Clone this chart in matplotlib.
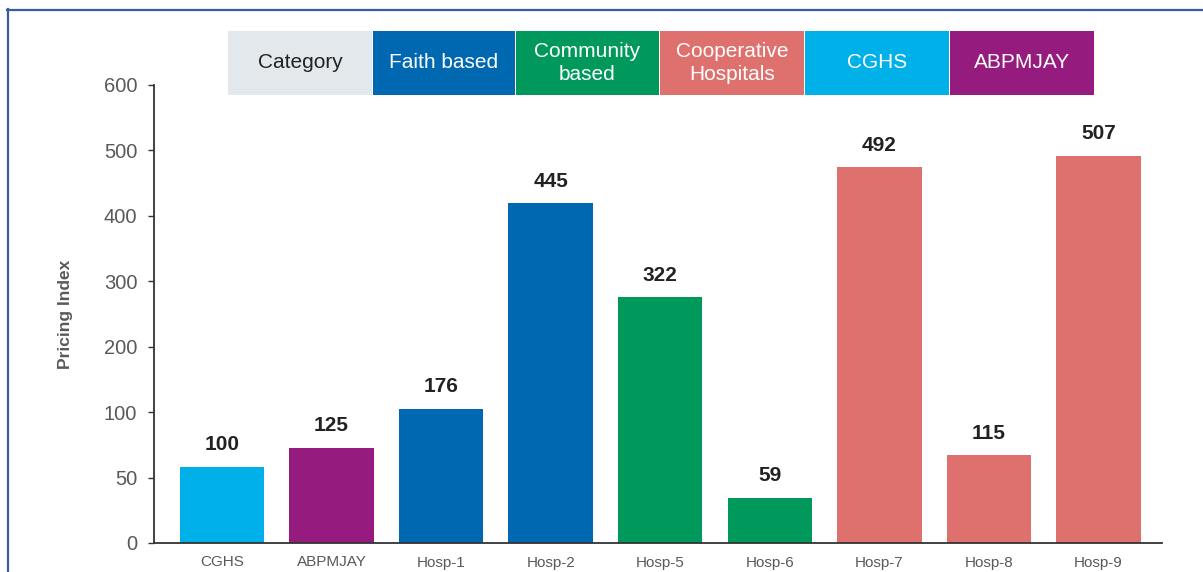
import matplotlib
matplotlib.use("Agg")
import matplotlib.pyplot as plt
from matplotlib.patches import Rectangle
from matplotlib.lines import Line2D

plt.rcParams['font.family'] = ['Liberation Sans', 'DejaVu Sans']

# ---------- data ----------
hospitals = ['CGHS', 'ABPMJAY', 'Hosp-1', 'Hosp-2', 'Hosp-5', 'Hosp-6', 'Hosp-7', 'Hosp-8', 'Hosp-9']
pricing_index = [100, 125, 176, 445, 322, 59, 492, 115, 507]
hosp_category = ['CGHS', 'ABPMJAY', 'Faith based', 'Faith based', 'Community based',
                 'Community based', 'Cooperative Hospitals', 'Cooperative Hospitals',
                 'Cooperative Hospitals']

# tick labels as printed on the original axis (equally spaced)
ytick_labels = ['0', '50', '100', '200', '300', '400', '500', '600']

legend_labels = ['Category', 'Faith based', 'Community\nbased', 'Cooperative\nHospitals', 'CGHS', 'ABPMJAY']
legend_keys = [None, 'Faith based', 'Community based', 'Cooperative Hospitals', 'CGHS', 'ABPMJAY']

cat_colors = {
    'Faith based': '#0067b1',
    'Community based': '#00995b',
    'Cooperative Hospitals': '#de716d',
    'CGHS': '#00b1e9',
    'ABPMJAY': '#951b7e',
}

# ---------- figure ----------
W, H = 1203, 572
fig = plt.figure(figsize=(W / 100, H / 100), dpi=100)
ax = fig.add_axes([154 / W, 1 - 543 / H, (1162 - 154) / W, (543 - 85) / H])

x = range(len(hospitals))
colors = [cat_colors[c] for c in hosp_category]
bars = ax.bar(x, pricing_index, width=0.77, color=colors, zorder=2)

for b, v in zip(bars, pricing_index):
    ax.annotate(f'{v}', (b.get_x() + b.get_width() / 2, v), xytext=(0, 9),
                textcoords='offset points', ha='center', va='bottom',
                fontsize=15, fontweight='bold', color='#222222')

ax.set_xlim(-0.62, 8.58)
ax.set_ylim(0, 600)
step = 600 / (len(ytick_labels) - 1)
ax.set_yticks([i * step for i in range(len(ytick_labels))])
ax.set_yticklabels(ytick_labels, fontsize=14.5, color='#595959')
ax.tick_params(axis='y', length=4, width=1, color='#333333', pad=8)

ax.set_xticks(list(x))
ax.set_xticklabels(hospitals, fontsize=11, color='#595959')
ax.tick_params(axis='x', length=0, pad=9)

for s in ['top', 'right']:
    ax.spines[s].set_visible(False)
for s in ['left', 'bottom']:
    ax.spines[s].set_color('#333333')
    ax.spines[s].set_linewidth(1.3)

ax.set_ylabel('Pricing Index', fontsize=12.5, fontweight='bold', color='#595959', labelpad=22)

# ---------- category legend boxes ----------
box_x = [228, 373, 516, 660, 805, 950, 1095]
top, bot = 31, 95
for i, (lab, key) in enumerate(zip(legend_labels, legend_keys)):
    x0, x1 = box_x[i], box_x[i + 1] - 1
    fc = '#e3e8ec' if key is None else cat_colors[key]
    tc = '#222222' if key is None else 'white'
    fig.patches.append(Rectangle((x0 / W, 1 - bot / H), (x1 - x0) / W, (bot - top) / H,
                                 transform=fig.transFigure, facecolor=fc, edgecolor='none'))
    fig.text((x0 + x1) / 2 / W, 1 - (top + bot) / 2 / H, lab, ha='center', va='center',
             fontsize=15, color=tc, linespacing=1.3)

# ---------- frame ----------
frame_c = '#3b5b9b'
fig.add_artist(Line2D([7.5 / W, 7.5 / W], [0, 1 - 9 / H], transform=fig.transFigure,
                      color=frame_c, lw=1.6))
fig.add_artist(Line2D([7 / W, 1], [1 - 9.5 / H, 1 - 9.5 / H], transform=fig.transFigure,
                      color=frame_c, lw=1.6))

fig.savefig('out.png', dpi=100, facecolor='white')
